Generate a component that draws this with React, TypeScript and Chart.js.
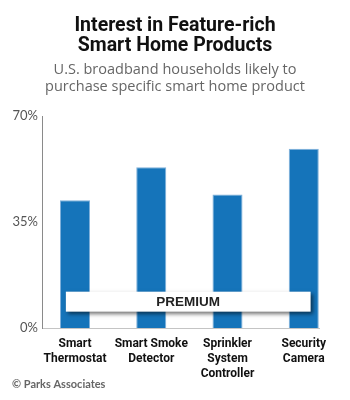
import React, { useEffect, useRef } from "react";
import { Chart, registerables } from "chart.js";

Chart.register(...registerables);

const TITLE_LINES = ["Interest in Feature-rich", "Smart Home Products"];
const SUBTITLE_LINES = [
  "U.S. broadband households likely to",
  "purchase specific smart home product",
];
const CATEGORIES: string[][] = [
  ["Smart", "Thermostat"],
  ["Smart Smoke", "Detector"],
  ["Sprinkler", "System", "Controller"],
  ["Security", "Camera"],
];
const VALUES = [42.2, 53.1, 44.1, 59.2];
const Y_TICKS = [0, 35, 70];
const BAND_LABEL = "PREMIUM";
const SOURCE = "© Parks Associates";

const BAR_COLOR = "#1574ba";

export default function App() {
  const ref = useRef<HTMLCanvasElement | null>(null);

  useEffect(() => {
    document.body.style.margin = "0";
    const canvas = ref.current;
    if (!canvas) return;

    const bandPlugin = {
      id: "bandPlugin",
      afterDatasetsDraw(chart: any) {
        const { ctx, scales } = chart;
        const x = scales.x;
        const y = scales.y;
        const x0 = x.getPixelForValue(-0.12);
        const x1 = x.getPixelForValue(3.09);
        const y0 = y.getPixelForValue(12);
        const y1 = y.getPixelForValue(5.4);
        ctx.save();
        ctx.shadowColor = "rgba(0,0,0,0.55)";
        ctx.shadowBlur = 4;
        ctx.shadowOffsetX = 2;
        ctx.shadowOffsetY = 2;
        ctx.fillStyle = "#ffffff";
        ctx.fillRect(x0, y0, x1 - x0, y1 - y0);
        ctx.restore();
        ctx.save();
        ctx.fillStyle = "#222222";
        ctx.font = "bold 13.5px 'Liberation Sans'";
        ctx.textAlign = "center";
        ctx.textBaseline = "middle";
        ctx.fillText(BAND_LABEL, (x0 + x1) / 2, (y0 + y1) / 2 + 1);
        ctx.restore();
      },
      afterDraw(chart: any) {
        const { ctx } = chart;
        ctx.save();
        ctx.fillStyle = "#666666";
        ctx.font = "bold 11px Lato";
        ctx.textAlign = "left";
        ctx.textBaseline = "middle";
        ctx.fillText(SOURCE, 12, 384);
        ctx.restore();
      },
    };

    const chart = new Chart(canvas, {
      type: "bar",
      data: {
        datasets: [
          {
            data: VALUES.map((v, i) => ({ x: i, y: v })),
            backgroundColor: BAR_COLOR,
            borderColor: "#7fb0da",
            borderWidth: { top: 1, left: 1, right: 1, bottom: 0 },
            borderSkipped: "bottom",
            barPercentage: 0.394,
            categoryPercentage: 1,
          },
        ],
      },
      plugins: [bandPlugin],
      options: {
        animation: false,
        responsive: false,
        layout: { padding: 0 },
        plugins: {
          legend: { display: false },
          tooltip: { enabled: false },
          title: {
            display: true,
            text: TITLE_LINES,
            color: "#111111",
            font: { family: "Roboto", size: 19.5, weight: "bold", lineHeight: 1.03 },
            padding: { top: 16, bottom: 5 },
          },
          subtitle: {
            display: true,
            text: SUBTITLE_LINES,
            color: "#666666",
            font: { family: "'Open Sans'", size: 14.5, weight: "normal", lineHeight: 1.17 },
            padding: { top: 0, bottom: 21 },
          },
        },
        scales: {
          x: {
            type: "linear",
            offset: false,
            min: -0.433,
            max: 3.2,
            afterBuildTicks(scale: any) {
              scale.ticks = CATEGORIES.map((_, i) => ({ value: i }));
            },
            afterFit(scale: any) {
              scale.height = 72;
            },
            grid: { display: false, drawTicks: false },
            border: { display: true, color: "#c4c4c4", width: 1 },
            ticks: {
              autoSkip: false,
              maxRotation: 0,
              minRotation: 0,
              padding: 8,
              color: "#111111",
              font: { family: "Roboto", size: 12, weight: "bold", lineHeight: 1.25 },
              callback: (value: any) => CATEGORIES[Math.round(Number(value))] ?? "",
            },
          },
          y: {
            min: 0,
            max: 70,
            afterBuildTicks(scale: any) {
              scale.ticks = Y_TICKS.map((v) => ({ value: v }));
            },
            afterFit(scale: any) {
              scale.width = 42;
            },
            grid: { display: false, drawTicks: false },
            border: { display: true, color: "#8a8a8a", width: 1, dash: [1, 2] },
            ticks: {
              padding: 4,
              color: "#555555",
              font: { family: "Lato", size: 13 },
              callback: (value: any) => `${value}%`,
            },
          },
          yRight: {
            position: "right",
            display: true,
            afterFit(scale: any) {
              scale.width = 31;
            },
            grid: { display: false, drawTicks: false },
            border: { display: false },
            ticks: { display: false },
          },
        },
      },
    } as any);

    return () => chart.destroy();
  }, []);

  return (
    <div style={{ width: 350, height: 400 }}>
      <canvas ref={ref} width={350} height={400} />
    </div>
  );
}
